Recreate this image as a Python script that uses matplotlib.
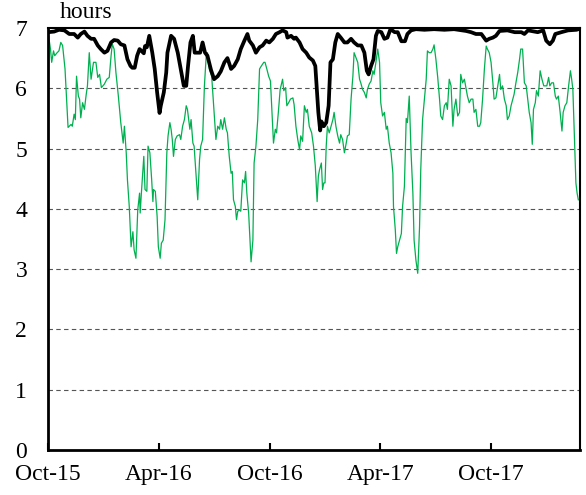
import pandas as pd
import matplotlib
matplotlib.use("Agg")
import matplotlib.pyplot as plt
import matplotlib.dates as mdates

START = pd.Timestamp("2015-10-01")
END = pd.Timestamp("2018-02-25")

# days since 1 Oct 2015
green_day = [0, 4, 6, 9, 11, 15, 18, 21, 24, 28, 33, 38, 40, 43, 45, 47, 50, 52, 54, 57,
             60, 63, 65, 68, 71, 75, 79, 82, 85, 88, 93, 97, 101, 104, 106, 109, 112, 116, 120, 124,
             126, 129, 131, 134, 137, 140, 142, 145, 148, 151, 152, 154, 158, 160, 163, 165, 168, 171, 173, 174,
             177, 180, 182, 185, 187, 190, 193, 196, 198, 201, 203, 205, 207, 210, 213, 217, 219, 222, 225, 228,
             230, 234, 236, 239, 241, 244, 247, 250, 252, 255, 258, 261, 263, 266, 270, 273, 277, 280, 283, 285,
             288, 291, 294, 296, 299, 302, 304, 306, 309, 311, 313, 316, 318, 321, 324, 326, 328, 331, 333, 335,
             338, 340, 343, 346, 349, 352, 356, 358, 361, 364, 367, 369, 372, 375, 377, 380, 383, 387, 389, 392,
             394, 397, 400, 404, 406, 409, 412, 415, 417, 420, 423, 426, 428, 431, 435, 438, 441, 444, 446, 448,
             451, 453, 455, 457, 459, 461, 464, 467, 470, 472, 475, 478, 481, 483, 486, 489, 492, 494, 497, 500,
             503, 505, 508, 511, 514, 516, 519, 522, 525, 527, 530, 533, 536, 538, 541, 544, 547, 549, 552, 555,
             558, 560, 563, 566, 569, 570, 573, 575, 577, 580, 583, 585, 588, 591, 593, 596, 599, 602, 604, 607,
             610, 613, 615, 618, 621, 624, 626, 629, 632, 635, 637, 640, 643, 646, 648, 651, 654, 657, 659, 662,
             665, 668, 670, 673, 676, 679, 681, 684, 687, 690, 692, 695, 698, 701, 703, 706, 709, 712, 714, 717,
             720, 723, 725, 728, 731, 734, 736, 739, 742, 745, 747, 750, 753, 756, 758, 761, 764, 767, 769, 772,
             775, 778, 780, 783, 786, 789, 791, 794, 797, 799, 801, 804, 806, 809, 812, 815, 818, 821, 823, 826,
             828, 831, 834, 837, 839, 842, 845, 848, 850, 853, 856, 859, 862, 864, 866, 869, 871, 873, 875]
green_hours = [6.93, 6.65, 6.43, 6.62, 6.54, 6.59, 6.62, 6.76, 6.71, 6.32, 5.35, 5.40, 5.37, 5.57, 5.48, 6.20, 5.87, 5.82, 5.51, 5.76,
               5.65, 5.90, 6.04, 6.59, 6.15, 6.43, 6.43, 6.18, 6.23, 6.01, 6.07, 6.15, 6.18, 6.54, 6.73, 6.65, 6.26, 5.87, 5.43, 5.09,
               5.37, 4.93, 4.48, 4.04, 3.37, 3.62, 3.32, 3.18, 3.98, 4.26, 3.93, 4.26, 4.87, 4.32, 4.29, 5.04, 4.93, 4.48, 4.12, 4.32,
               4.29, 3.87, 3.37, 3.18, 3.43, 3.48, 3.82, 4.93, 5.21, 5.43, 5.32, 5.15, 4.87, 5.15, 5.21, 5.23, 5.15, 5.37, 5.48, 5.71,
               5.65, 5.32, 5.48, 5.09, 5.04, 4.59, 4.15, 4.82, 5.04, 5.15, 6.04, 6.54, 6.59, 6.32, 6.20, 5.76, 5.15, 5.37, 5.32, 5.48,
               5.32, 5.51, 5.32, 5.26, 4.87, 4.59, 4.62, 4.15, 4.04, 3.82, 3.96, 3.98, 3.96, 4.48, 4.43, 4.62, 4.26, 3.93, 3.54, 3.12,
               3.48, 4.76, 5.04, 5.48, 6.32, 6.37, 6.43, 6.43, 6.32, 6.20, 6.12, 5.71, 5.09, 5.32, 5.26, 5.60, 5.98, 6.15, 5.96, 6.01,
               5.71, 5.76, 5.82, 5.84, 5.73, 5.37, 5.15, 4.98, 5.21, 5.12, 5.71, 5.60, 5.65, 5.37, 5.26, 5.04, 4.71, 4.12, 4.54, 4.65,
               4.76, 4.32, 4.43, 4.43, 5.04, 5.37, 5.26, 5.37, 5.48, 5.60, 5.37, 5.21, 5.09, 5.23, 5.15, 4.93, 5.09, 5.21, 5.23, 5.82,
               6.20, 6.59, 6.51, 6.43, 6.15, 6.09, 5.98, 5.93, 5.84, 5.98, 6.07, 6.12, 6.29, 6.23, 6.43, 6.65, 6.43, 5.76, 5.54, 5.60,
               5.32, 5.37, 5.09, 4.93, 4.59, 4.04, 3.65, 3.26, 3.37, 3.48, 3.59, 4.04, 4.37, 5.50, 5.43, 5.87, 4.93, 4.26, 3.48, 3.15,
               2.93, 3.70, 4.65, 5.48, 5.82, 6.15, 6.62, 6.59, 6.59, 6.65, 6.72, 6.48, 6.18, 5.82, 5.54, 5.48, 5.71, 5.76, 5.65, 6.15,
               6.04, 5.37, 5.65, 5.82, 5.54, 5.60, 6.23, 6.09, 6.15, 5.98, 5.87, 5.76, 5.82, 5.82, 5.60, 5.65, 5.37, 5.37, 5.43, 5.82,
               6.32, 6.70, 6.65, 6.59, 6.43, 6.09, 5.82, 5.84, 6.04, 6.23, 5.98, 6.04, 5.82, 5.71, 5.48, 5.54, 5.71, 5.82, 5.90, 6.09,
               6.26, 6.48, 6.65, 6.65, 6.09, 6.04, 5.87, 5.60, 5.43, 5.07, 5.65, 5.76, 5.96, 5.87, 6.29, 6.15, 6.04, 6.04, 6.04, 6.18,
               6.04, 6.09, 6.09, 5.87, 5.82, 5.87, 5.60, 5.29, 5.60, 5.71, 5.76, 6.04, 6.29, 6.15, 5.98, 5.04, 4.43, 4.26, 4.15]

black_day = [0, 10, 18, 27, 35, 43, 49, 54, 60, 65, 71, 76, 82, 87, 93, 98, 104, 109, 115, 120,
             126, 131, 136, 139, 143, 147, 151, 154, 158, 160, 163, 167, 172, 176, 180, 184, 186, 191, 195, 197,
             203, 208, 214, 219, 224, 228, 231, 235, 239, 242, 247, 251, 255, 259, 263, 269, 274, 280, 285, 291,
             296, 302, 307, 313, 318, 324, 329, 332, 338, 343, 349, 354, 360, 365, 371, 376, 382, 387, 393, 395,
             401, 406, 409, 415, 420, 426, 431, 437, 441, 444, 446, 449, 451, 455, 459, 463, 466, 470, 474, 478,
             483, 489, 494, 500, 505, 511, 517, 522, 526, 529, 533, 537, 541, 544, 550, 555, 560, 565, 572, 577,
             583, 589, 593, 599, 607, 621, 637, 654, 670, 690, 698, 706, 715, 723, 728, 734, 739, 745, 758, 770,
             781, 786, 792, 808, 817, 822, 828, 833, 837, 847, 858, 872, 875]
black_hours = [6.93, 6.94, 6.97, 6.96, 6.90, 6.90, 6.84, 6.90, 6.94, 6.87, 6.82, 6.82, 6.71, 6.65, 6.59, 6.62, 6.76, 6.80, 6.79, 6.73,
               6.71, 6.48, 6.37, 6.34, 6.34, 6.54, 6.65, 6.62, 6.58, 6.70, 6.68, 6.87, 6.59, 6.32, 5.93, 5.59, 5.71, 5.93, 6.26, 6.59,
               6.87, 6.82, 6.59, 6.32, 6.04, 6.04, 6.37, 6.76, 6.87, 6.59, 6.59, 6.59, 6.76, 6.59, 6.54, 6.30, 6.15, 6.20, 6.28, 6.43,
               6.50, 6.32, 6.37, 6.48, 6.65, 6.79, 6.90, 6.79, 6.71, 6.59, 6.68, 6.71, 6.79, 6.76, 6.82, 6.90, 6.93, 6.96, 6.93, 6.84,
               6.87, 6.82, 6.84, 6.76, 6.65, 6.59, 6.51, 6.46, 6.37, 5.90, 5.60, 5.30, 5.45, 5.37, 5.43, 5.71, 6.43, 6.48, 6.76, 6.90,
               6.84, 6.76, 6.76, 6.82, 6.76, 6.71, 6.71, 6.59, 6.29, 6.23, 6.37, 6.48, 6.87, 6.95, 6.93, 6.82, 6.84, 6.98, 6.93, 6.93,
               6.78, 6.78, 6.90, 6.96, 6.98, 6.97, 6.98, 6.97, 6.98, 6.95, 6.93, 6.90, 6.90, 6.79, 6.82, 6.84, 6.87, 6.95, 6.96, 6.93,
               6.93, 6.90, 6.96, 6.93, 6.96, 6.79, 6.73, 6.79, 6.90, 6.93, 6.96, 6.97, 6.98]

tick_dates = ["2015-10-01", "2016-04-01", "2016-10-01", "2017-04-01", "2017-10-01"]

plt.rcParams["font.family"] = "Liberation Serif"
plt.rcParams["font.size"] = 17

green_x = START + pd.to_timedelta(green_day, unit="D")
black_x = START + pd.to_timedelta(black_day, unit="D")

fig = plt.figure(figsize=(5.86, 4.95), dpi=100)
ax = fig.add_axes([0.082, 0.091, 0.908, 0.8525])

for y in range(1, 7):
    ax.axhline(y, color="#555555", linestyle=(0, (4, 3)), linewidth=0.8, zorder=1)

ax.plot(green_x, green_hours, color="#00b050", linewidth=0.9, zorder=2)
ax.plot(black_x, black_hours, color="black", linewidth=2.7, solid_joinstyle="round", zorder=3)

ax.set_xlim(START, END)
ax.set_ylim(0, 7)
ax.set_yticks(range(0, 8))
ax.set_xticks(pd.to_datetime(tick_dates))
ax.xaxis.set_major_formatter(mdates.DateFormatter("%b-%y"))
ax.tick_params(axis="x", direction="in", length=5, width=1.5, pad=10)
ax.tick_params(axis="y", length=0, pad=15)

for side in ["left", "bottom"]:
    ax.spines[side].set_linewidth(2)
for side in ["top", "right"]:
    ax.spines[side].set_linewidth(1.5)

ax.text(0.0226, 1.012, "hours", transform=ax.transAxes, ha="left", va="bottom")

fig.savefig("out.png", dpi=100)
